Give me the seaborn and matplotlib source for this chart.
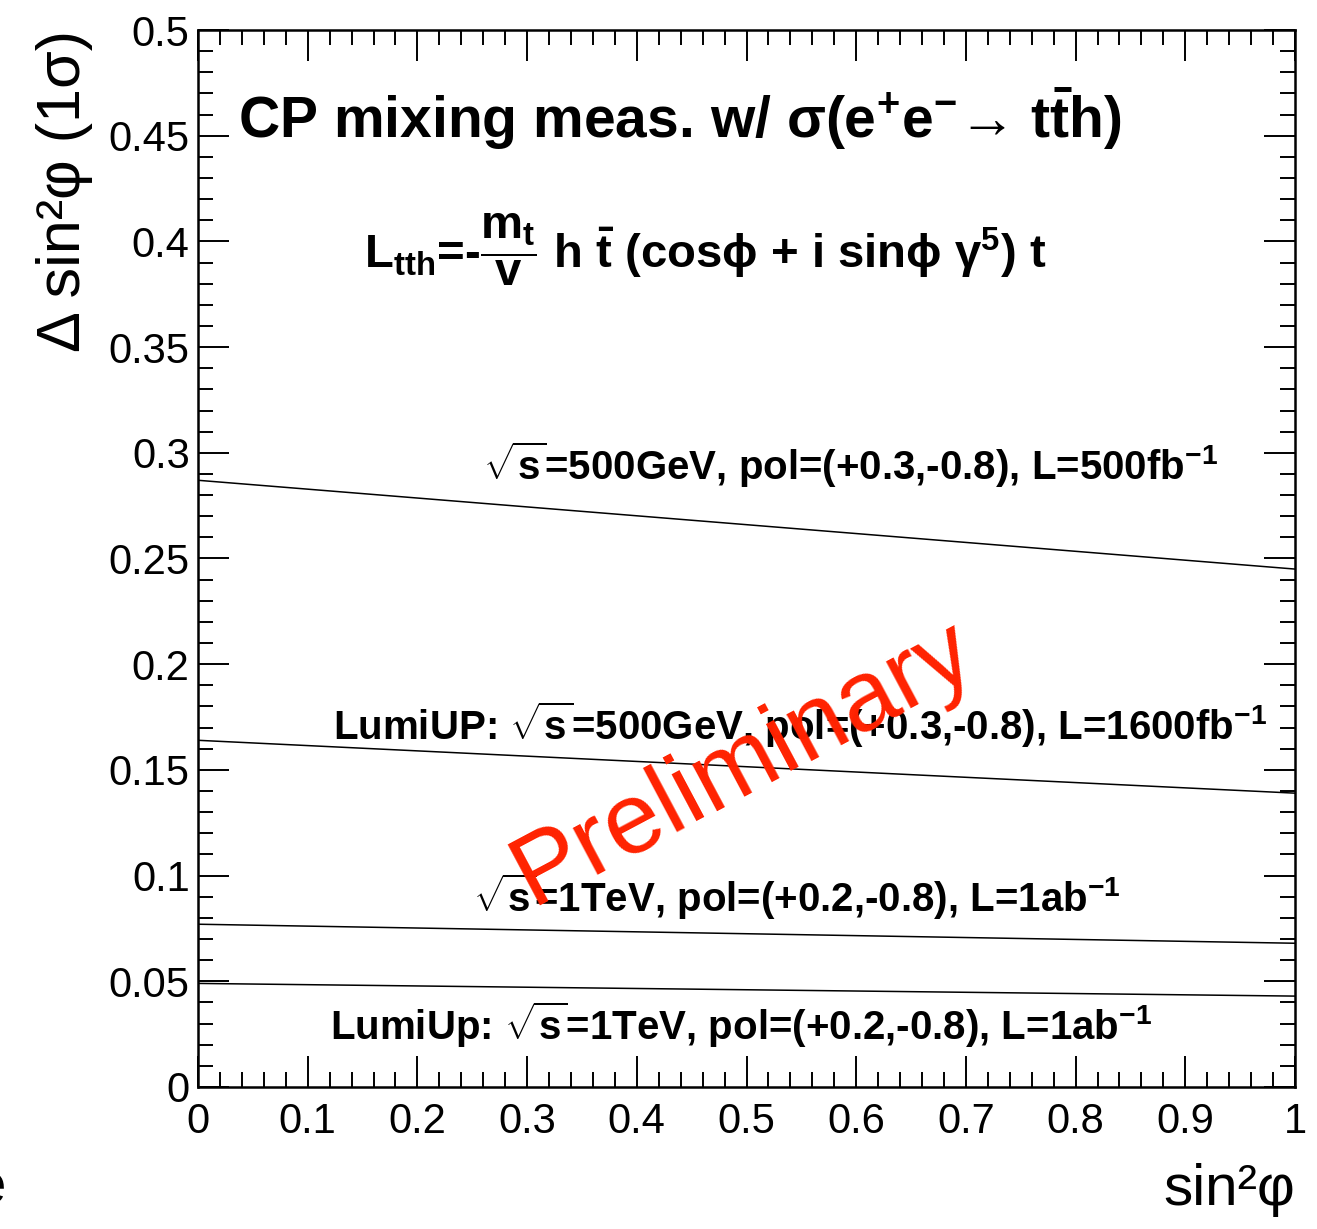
import numpy as np
import pandas as pd
import matplotlib
matplotlib.use("Agg")
import matplotlib.pyplot as plt
from matplotlib import font_manager
from matplotlib.ticker import MultipleLocator
import seaborn as sns

# sin^2(phi) end points and the 1-sigma uncertainty
sin2phi = [0.0, 1.0]
dsin_500 = [0.287, 0.245]
dsin_500_lumiup = [0.164, 0.139]
dsin_1tev = [0.077, 0.068]
dsin_1tev_lumiup = [0.049, 0.043]

scenarios = ["500GeV", "500GeV LumiUP", "1TeV", "1TeV LumiUp"]
labels = [
    r"$\sqrt{s}$=500GeV, pol=(+0.3,-0.8), L=500fb$^{-1}$",
    r"LumiUP: $\sqrt{s}$=500GeV, pol=(+0.3,-0.8), L=1600fb$^{-1}$",
    r"$\sqrt{s}$=1TeV, pol=(+0.2,-0.8), L=1ab$^{-1}$",
    r"LumiUp: $\sqrt{s}$=1TeV, pol=(+0.2,-0.8), L=1ab$^{-1}$",
]

df = pd.DataFrame({
    "sin2phi": sin2phi * 4,
    "dsin": dsin_500 + dsin_500_lumiup + dsin_1tev + dsin_1tev_lumiup,
    "scenario": [s for s in scenarios for _ in sin2phi],
})

sns.set_theme(style="ticks")
names = {f.name for f in font_manager.fontManager.ttflist}
narrow = "Liberation Sans Narrow" if "Liberation Sans Narrow" in names else "Liberation Sans"
plt.rcParams["font.family"] = ["Liberation Sans", "DejaVu Sans"]
plt.rcParams["mathtext.fontset"] = "custom"
plt.rcParams["mathtext.rm"] = narrow + ":bold"
plt.rcParams["mathtext.it"] = narrow + ":bold"
plt.rcParams["mathtext.bf"] = narrow + ":bold"
plt.rcParams["mathtext.default"] = "rm"
for k in ["text.color", "axes.labelcolor", "xtick.color", "ytick.color", "axes.edgecolor"]:
    plt.rcParams[k] = "black"

fig = plt.figure(figsize=(13.17, 12.29), dpi=100)
ax = fig.add_axes([198 / 1317, 1 - 1087 / 1229, 1097 / 1317, 1057 / 1229])

sns.lineplot(data=df, x="sin2phi", y="dsin", hue="scenario",
             palette=["black"] * 4, linewidth=1.1, legend=False, ax=ax)

ax.set_xlim(0, 1)
ax.set_ylim(0, 0.5)
ax.xaxis.set_major_locator(MultipleLocator(0.1))
ax.xaxis.set_minor_locator(MultipleLocator(0.02))
ax.yaxis.set_major_locator(MultipleLocator(0.05))
ax.yaxis.set_minor_locator(MultipleLocator(0.01))
ax.set_xticklabels([f"{v:g}" for v in ax.get_xticks()])
ax.set_yticklabels([f"{v:g}" for v in ax.get_yticks()])
ax.tick_params(which="both", direction="in", top=True, right=True,
               width=1.4, color="black", labelsize=30, labelcolor="black")
ax.tick_params(which="major", length=22)
ax.tick_params(which="minor", length=11)
ax.tick_params(axis="x", pad=11)
ax.tick_params(axis="y", pad=6)
for sp in ax.spines.values():
    sp.set_linewidth(1.8)
    sp.set_color("black")

ax.set_xlabel("sin²φ", fontsize=42, loc="right")
ax.xaxis.set_label_coords(1.0, -0.072)
ax.set_ylabel("Δ sin²φ (1σ)", fontsize=44, loc="top")
ax.yaxis.set_label_coords(-0.096, 1.0)

bold = dict(family=[narrow, "DejaVu Sans"], weight="bold")
ax.text(0.0365, 0.449, r"CP mixing meas. w/ $\sigma$(e$^{+}$e$^{-}$→ t$\bar{t}$h)",
        fontsize=41, ha="left", va="baseline", **bold)
ax.text(0.462, 0.387, r"L$_{tth}$=-$\dfrac{m_{t}}{v}$ h $\bar{t}$ (cos$\phi$ + i sin$\phi$ $\gamma^{5}$) t",
        fontsize=34, ha="center", va="baseline", **bold)

label_pos = [(0.26, 0.2871), (0.123, 0.1641), (0.251, 0.0828), (0.120, 0.0222)]
for (lx, ly), lab in zip(label_pos, labels):
    ax.text(lx, ly, lab, fontsize=29, ha="left", va="baseline", **bold)

ax.text(0.497, 0.1530, "Preliminary", color="#ff2200", fontsize=73,
        rotation=28, ha="center", va="center", rotation_mode="anchor")

fig.text(6 / 1317, 1 - 1203 / 1229, "e", fontsize=42, ha="right", va="baseline")

fig.savefig("out.png", dpi=100, facecolor="white")
